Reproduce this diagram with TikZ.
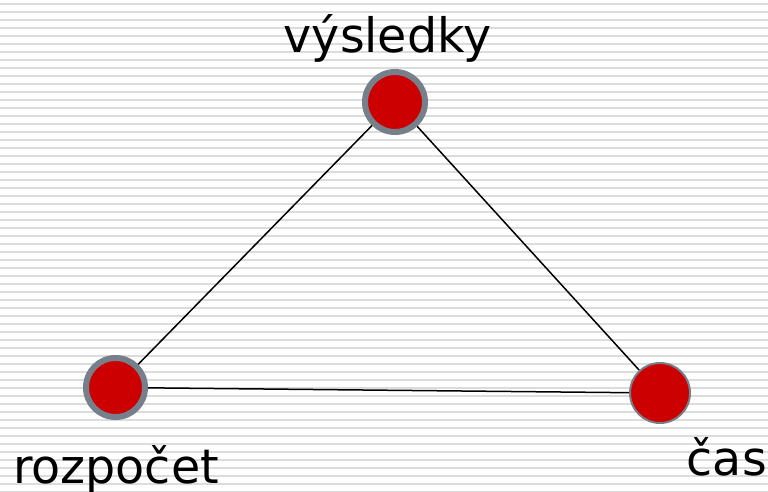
\documentclass[tikz,border=0pt]{standalone}
\usepackage{fontspec}
\setmainfont{DejaVu Sans}
\usepackage{tikz}
\usetikzlibrary{positioning}
\definecolor{stripe}{HTML}{DCDCDC}
\definecolor{ringgray}{HTML}{76808A}
\definecolor{dotred}{HTML}{CC0000}
\tikzset{
  dot/.style={circle, fill=dotred, draw=ringgray, inner sep=0pt},
  label text/.style={inner sep=0pt, font=\fontsize{47.5}{50}\selectfont},
}

\begin{document}
\begin{tikzpicture}[x=1pt,y=-1pt]
\useasboundingbox (0,0) rectangle (768,492);
\foreach \y in {4,12,...,492}
  \fill[stripe] (0,\y-1) rectangle (768,\y+1);
%
\node[dot, line width=6pt, minimum size=60pt](vysledky) at (395,102) {};
\node[dot, line width=6pt, minimum size=59pt](rozpocet) at (115.5,387.5) {};
\node[dot, line width=2pt, minimum size=60pt](cas) at (660,393) {};
%
\node[label text, anchor=base](t1) at (387.5,53) {výsledky};
\node[label text, anchor=base west](t2) at (13,483) {rozpočet};
\node[label text, anchor=base east](t3) at (767,475) {čas};
%
\draw[line width=1.5pt](vysledky) -- (rozpocet) {};
\draw[line width=1.5pt](vysledky) -- (cas) {};
\draw[line width=1.5pt](rozpocet) -- (cas) {};
\end{tikzpicture}
\end{document}
